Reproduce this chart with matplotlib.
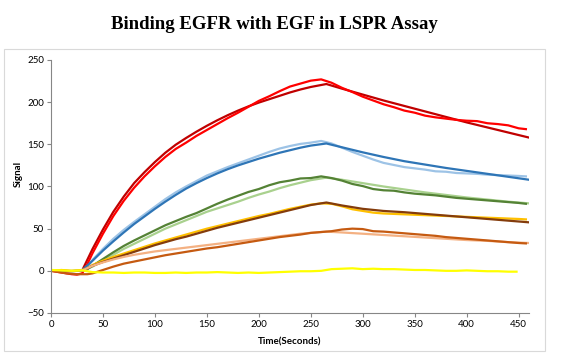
import numpy as np
import matplotlib
matplotlib.use("Agg")
import matplotlib.pyplot as plt
from matplotlib.patches import Rectangle

# time grids (seconds)
exp_t = [0, 5, 10, 15, 20, 25, 30, 35, 40, 50, 60, 70, 80, 90, 100, 110, 120, 130, 140, 150,
         160, 170, 180, 190, 200, 210, 220, 230, 240, 250, 260, 270, 280, 290, 300, 310, 320,
         330, 340, 350, 360, 370, 380, 390, 400, 410, 420, 430, 440, 450, 457]
fit_t = [31, 40, 50, 60, 70, 80, 90, 100, 110, 120, 130, 140, 150, 160, 170, 180, 190, 200,
         210, 220, 230, 240, 250, 265, 280, 300, 320, 340, 360, 380, 400, 420, 440, 460]
yellow_t = list(range(0, 441, 10)) + [448]

# measured signals
red_exp = [0, -1, -2, -3, -4, -4.5, -3, 8, 21, 44, 65, 83, 98.5, 112, 124, 135, 144.5, 152, 160,
           167, 174, 181, 187.5, 194.5, 201.5, 207, 213, 218.5, 222, 225.5, 227, 223, 217, 212,
           206.5, 202, 197.5, 194, 190, 187.5, 184, 182, 180.5, 179, 178, 177.5, 175, 174, 172.5,
           169, 168]
blue_exp = [0, 0.5, 0, -0.5, 0, 0.5, 0, 4, 13, 26, 38, 48.5, 58, 67, 76, 85, 93, 100, 106.5,
            113, 118, 123, 127.5, 132, 136.5, 141, 145, 148, 150.5, 152, 154, 151, 146, 141,
            136.5, 132, 128, 125.5, 123, 121.5, 120, 118, 117.5, 116, 115.5, 115, 114, 113.5,
            113, 112.5, 112]
green_exp = [0.5, 0, 0.5, 0, -0.5, 0, 0.5, 2, 6, 14, 22, 29.5, 36, 42, 48, 54, 59, 64, 68.5,
             74, 79.5, 84.5, 89, 93.5, 97, 101.5, 105, 107, 109.5, 110, 112, 110, 107, 103, 100.5,
             97, 95.5, 95, 93, 91.5, 90.5, 89.5, 88, 86.5, 85.5, 84.5, 83.5, 82.5, 81.5, 80.5,
             79.5]
orange_exp = [1, 0.5, 1, 0.5, 0, 0.5, 1, 3, 7, 12, 16.5, 20.5, 24.5, 28.5, 32.5, 36, 39.5, 43,
              46.5, 50, 53, 56, 59, 62, 65, 67.5, 70.5, 73.5, 76, 78.5, 80, 79.5, 76.5, 73, 71,
              69, 68, 67.5, 67, 66.5, 66, 65.5, 65, 64.5, 64, 63.5, 63, 62.5, 62, 61.5, 61]
coral_exp = [0, -1, -2, -3, -3.5, -4, -4, -4, -3, 1, 5, 8.5, 11, 13.5, 16, 18.5, 20.5, 22.5, 24.5,
             26.5, 28, 30, 32, 34, 36, 38, 40, 41.5, 43, 45, 46, 47, 49, 50, 49.5, 47, 46.5, 45.5,
             44.5, 43.5, 42.5, 41.5, 40, 39, 38, 37, 36, 35, 34, 33, 32.5]
yellow_exp = [1, 0.5, 0, 0.5, -1.5, -2, -2, -2.5, -2, -2, -2.5, -2.5, -2, -2.5, -2, -2, -1.5, -2,
              -2.5, -2, -2.5, -2, -1.5, -1, -0.5, -0.5, 0, 2, 2.5, 3, 2, 2.5, 2, 2, 1.5, 1, 1,
              0.5, 0, 0, 0.5, 0, -0.5, -0.5, -1, -1]

# fitted curves
red_fit = [3, 26, 49, 70, 88, 104, 117, 129, 140, 149.5, 157.5, 165, 172, 178.5, 184.5, 190, 195,
           199.5, 203.5, 207.5, 211.5, 215, 218, 221.5, 216, 209, 202, 195.5, 189, 182.5, 176,
           170, 164, 158]
blue_fit = [2, 12, 24, 35, 45.5, 55.5, 64.5, 73.5, 82, 90, 97.5, 104, 110, 115.5, 120.5, 125, 129,
            133, 136.5, 140, 143, 146, 148.5, 151, 146.5, 140.5, 135, 130, 126, 122, 118.5, 115,
            111.5, 108]
green_fit = [1, 5, 12, 19, 26, 32, 38, 44, 50, 55, 60, 65, 70, 74, 78, 82, 86.5, 90.5, 94, 98,
             101.5, 104.5, 107.5, 110.5, 108, 104, 100, 96.5, 93, 90, 87, 84.5, 82, 80]
brown_fit = [1, 6, 10.5, 14.5, 18.5, 22.5, 26.5, 30.5, 34, 37.5, 40.5, 44, 47.5, 51, 54, 57, 60,
             63, 66, 69, 72, 75, 78, 81, 77.5, 73.5, 71, 69.5, 67.5, 65.5, 63.5, 61.5, 59.5, 57.5]
salmon_fit = [1, 6, 10, 13.5, 16.5, 19, 21, 23, 24.5, 26, 27.5, 29, 30.5, 32, 33.5, 35, 36.5, 38,
              39.5, 41, 42.5, 44, 45, 46.5, 45.5, 44, 42.5, 41, 39.5, 38, 36.5, 35.5, 34, 33]

fig = plt.figure(figsize=(5.75, 3.56), dpi=100)
fig.patches.append(Rectangle((0.007, 0.014), 0.941, 0.848, transform=fig.transFigure,
                             fill=False, edgecolor="#d9d9d9", linewidth=0.8))
ax = fig.add_axes([0.0887, 0.1208, 0.8313, 0.7107])

lw = 1.6
ax.plot(fit_t, red_fit, color="#c00000", lw=lw)
ax.plot(exp_t, red_exp, color="#ff0000", lw=lw)
ax.plot(exp_t, blue_exp, color="#9dc3e6", lw=lw)
ax.plot(fit_t, blue_fit, color="#2e75b6", lw=lw)
ax.plot(fit_t, green_fit, color="#a9d18e", lw=lw)
ax.plot(exp_t, green_exp, color="#548235", lw=lw)
ax.plot(exp_t, orange_exp, color="#ffc000", lw=lw)
ax.plot(fit_t, brown_fit, color="#843c0c", lw=lw)
ax.plot(fit_t, salmon_fit, color="#f4b183", lw=lw)
ax.plot(exp_t, coral_exp, color="#c55a11", lw=lw)
ax.plot(yellow_t, yellow_exp, color="#ffff00", lw=lw)

ax.set_xlim(0, 460)
ax.set_ylim(-50, 250)
ax.set_xticks(np.arange(0, 451, 50))
ax.set_yticks(np.arange(-50, 251, 50))
for s in ["top", "right"]:
    ax.spines[s].set_visible(False)
for s in ["left", "bottom"]:
    ax.spines[s].set_color("#868686")
    ax.spines[s].set_linewidth(0.8)
ax.tick_params(direction="out", length=3, width=0.8, color="#868686",
               labelsize=7, pad=2)
for lab in ax.get_xticklabels() + ax.get_yticklabels():
    lab.set_family("Lato")

ax.set_xlabel("Time(Seconds)", fontsize=7, fontweight="bold", family="Lato")
ax.set_ylabel("Signal", fontsize=7, fontweight="bold", family="Lato")
ax.xaxis.set_label_coords(0.5, -0.095)
ax.yaxis.set_label_coords(-0.058, 0.55)

fig.text(0.478, 0.93, "Binding EGFR with EGF in LSPR Assay", ha="center", va="center",
         fontsize=13.5, fontweight="bold", family="Liberation Serif")

fig.savefig("out.png", dpi=100)
